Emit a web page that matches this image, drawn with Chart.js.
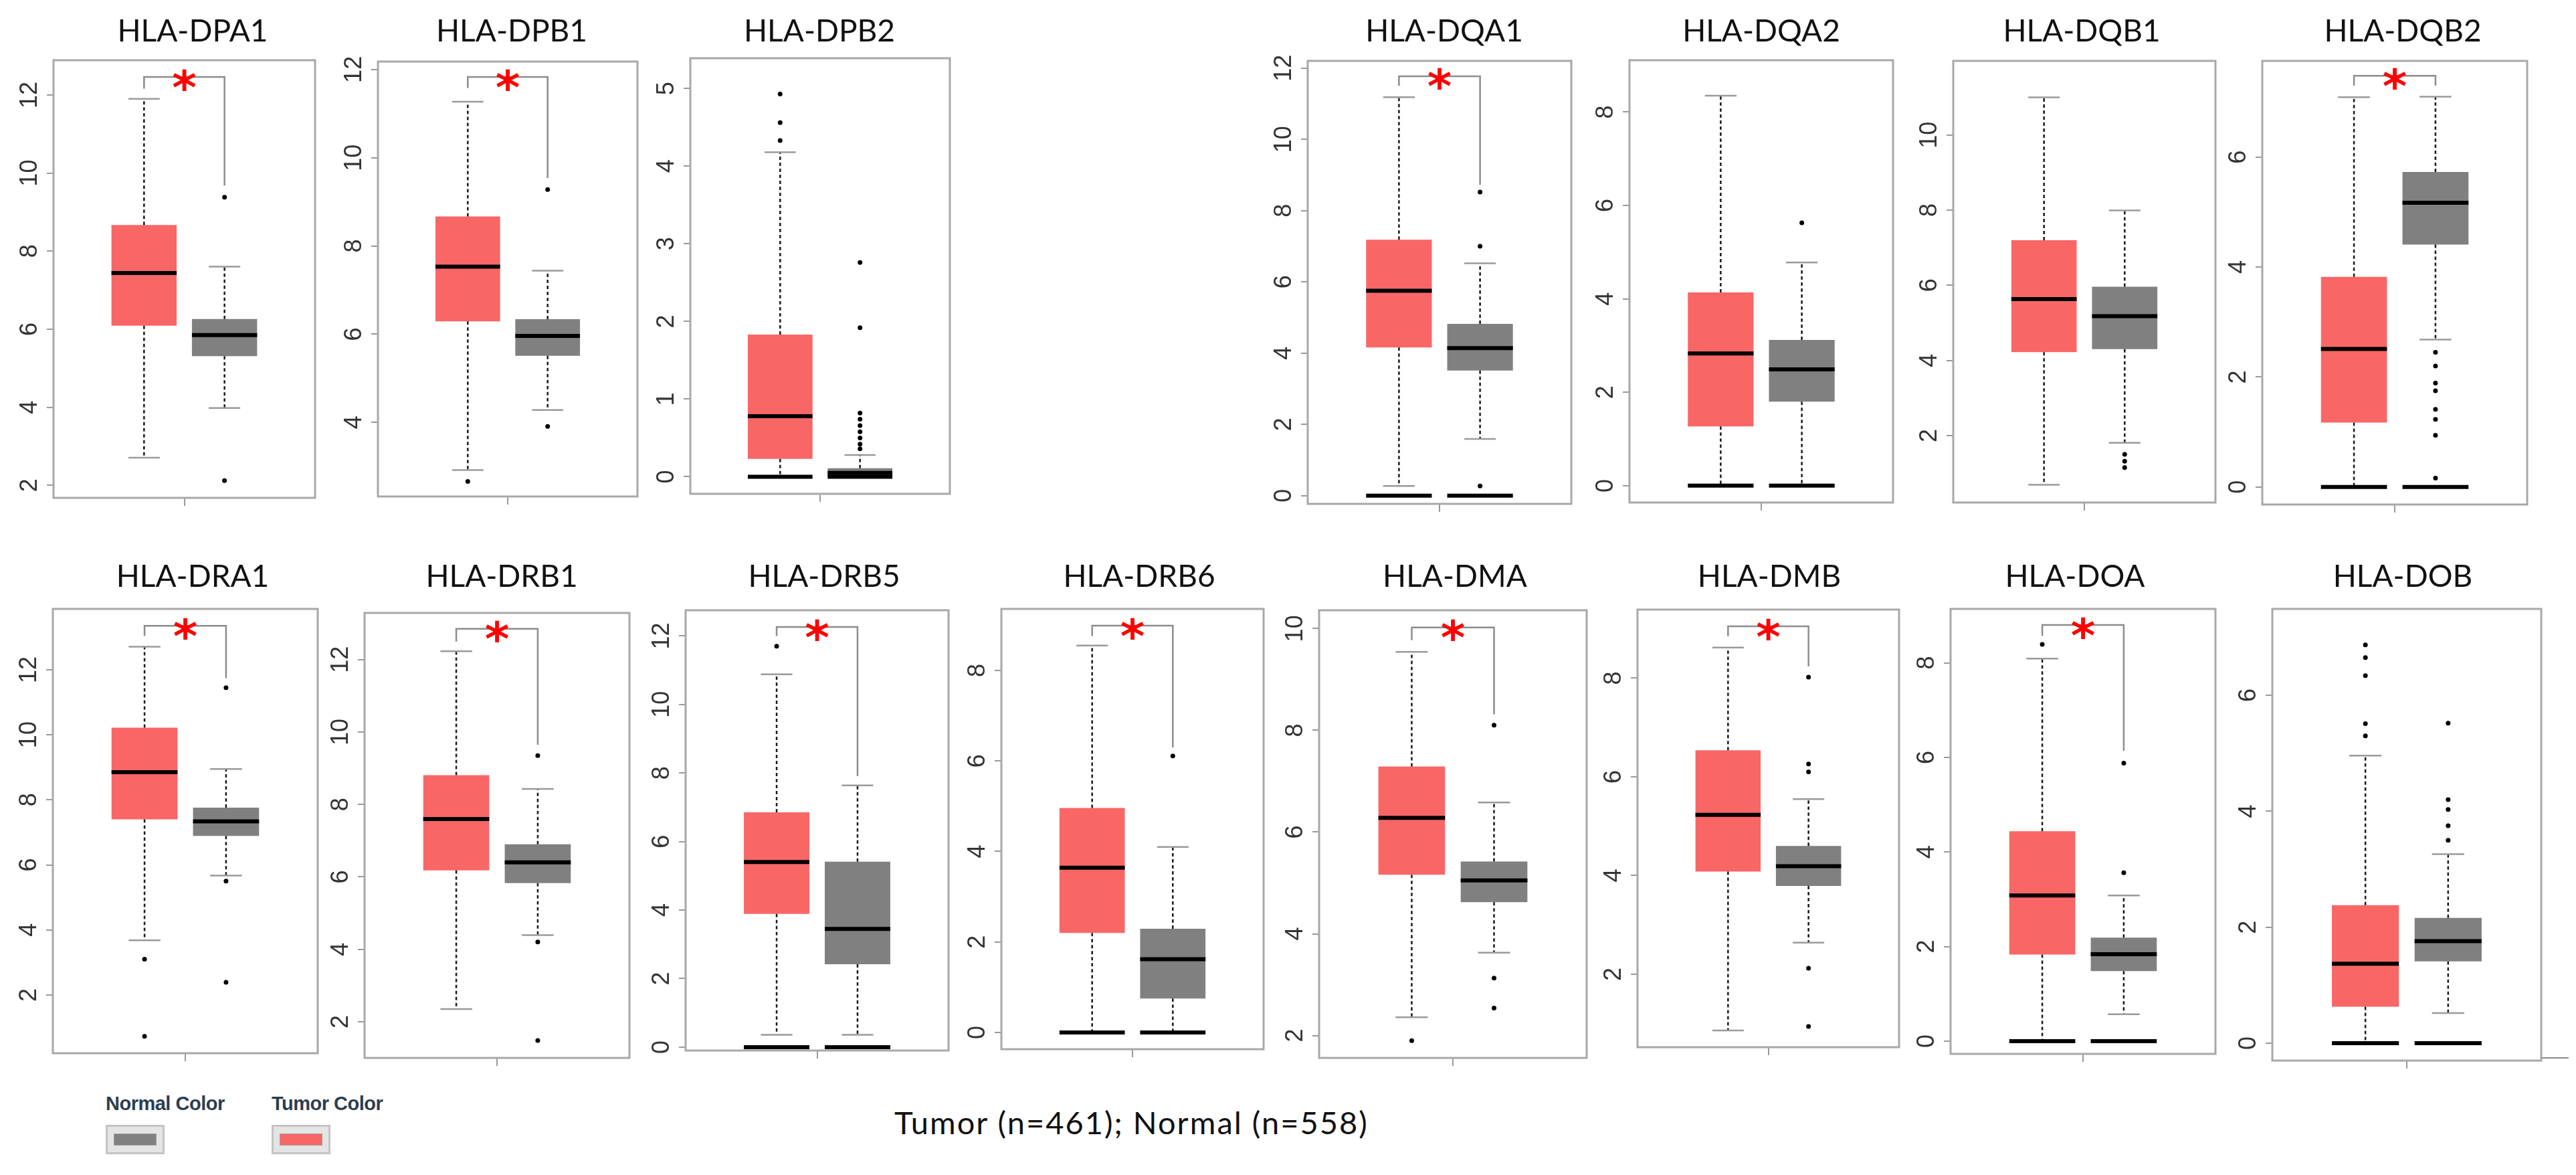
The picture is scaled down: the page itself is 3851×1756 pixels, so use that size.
<!DOCTYPE html>
<html>
<head>
<meta charset="utf-8">
<script src="https://cdn.jsdelivr.net/npm/chart.js@4.4.1/dist/chart.umd.min.js"></script>
<style>
  html, body { margin:0; padding:0; background:#fff; }
  body { width:3851px; height:1756px; position:relative; overflow:hidden; font-family: Lato, "Noto Sans", sans-serif; }
  canvas { position:absolute; }
  .title { position:absolute; width:600px; text-align:center; font-family:Lato, sans-serif; font-size:46px; line-height:1; color:#111; white-space:nowrap; }
  #caption { position:absolute; left:1337px; top:1654px; font-family:Lato, sans-serif; font-size:47px; line-height:1; color:#111; white-space:nowrap; letter-spacing:2px; }
  .legtext { position:absolute; font-family:"Liberation Sans", Arial, sans-serif; font-weight:bold; font-size:29px; line-height:1; color:#2c3e50; white-space:nowrap; letter-spacing:-0.5px; }
  .swOuter { position:absolute; width:82px; height:38px; background:#e4e4e4; border:3px solid #c4c4c4; }
  .swInner { position:absolute; left:9px; top:10px; width:62px; height:16px; border:1px solid #a0a0a0; }
  .artifact { position:absolute; left:3800px; top:1580px; width:40px; height:2px; background:#8a8a8a; }
</style>
</head>
<body>
<script>
// ---------------- DATA ----------------
const genes = ['HLA-DPA1','HLA-DPB1','HLA-DPB2','HLA-DQA1','HLA-DQA2','HLA-DQB1','HLA-DQB2',
               'HLA-DRA1','HLA-DRB1','HLA-DRB5','HLA-DRB6','HLA-DMA','HLA-DMB','HLA-DOA','HLA-DOB'];
const groupLabels = ['Tumor', 'Normal'];
const sampleSizes = [461, 558];

// box statistics: [lower whisker, Q1, median, Q3, upper whisker]
const tumorStats = [
  [2.71, 6.09, 7.44, 8.67, 11.90],
  [2.92, 6.29, 7.53, 8.67, 11.27],
  [0.00, 0.23, 0.78, 1.83, 4.18],
  [0.27, 4.16, 5.75, 7.18, 11.18],
  [0.00, 1.27, 2.83, 4.14, 8.35],
  [0.69, 4.22, 5.63, 7.20, 11.00],
  [0.00, 1.17, 2.51, 3.82, 7.09],
  [3.68, 7.40, 8.85, 10.22, 12.71],
  [2.35, 6.18, 7.60, 8.81, 12.23],
  [0.36, 3.89, 5.40, 6.85, 10.88],
  [0.00, 2.20, 3.64, 4.96, 8.55],
  [2.36, 5.16, 6.28, 7.29, 9.54],
  [0.86, 4.08, 5.23, 6.54, 8.62],
  [0.00, 1.83, 3.08, 4.44, 8.09],
  [0.00, 0.63, 1.37, 2.38, 4.96]
];
const normalStats = [
  [3.98, 5.31, 5.85, 6.26, 7.60],
  [4.28, 5.51, 5.96, 6.34, 7.44],
  [0.00, 0.00, 0.05, 0.11, 0.28],
  [1.59, 3.51, 4.14, 4.82, 6.52],
  [0.00, 1.80, 2.49, 3.12, 4.78],
  [1.81, 4.30, 5.18, 5.96, 7.99],
  [2.68, 4.41, 5.17, 5.73, 7.10],
  [5.67, 6.89, 7.34, 7.76, 8.95],
  [4.39, 5.83, 6.40, 6.90, 8.43],
  [0.36, 2.42, 3.45, 5.41, 7.64],
  [0.00, 0.75, 1.62, 2.29, 4.10],
  [3.63, 4.62, 5.05, 5.42, 6.58],
  [2.64, 3.79, 4.19, 4.60, 5.55],
  [0.57, 1.48, 1.84, 2.19, 3.08],
  [0.52, 1.41, 1.76, 2.16, 3.26]
];
// isolated points visible beyond the whiskers
const tumorOutliers = [
  [], [2.66], [4.93, 4.56, 4.33], [], [], [], [],
  [3.10, 0.73], [], [11.70], [], [1.90], [], [8.39], [6.87, 6.65, 6.34, 5.51, 5.30]
];
const normalOutliers = [
  [9.38, 2.12], [9.28, 3.91], [2.76, 1.92, 0.82, 0.74, 0.66, 0.58, 0.50, 0.42, 0.36],
  [8.52, 7.00, 0.27], [5.63], [1.50, 1.32, 1.15], [2.45, 2.20, 1.89, 1.75, 1.41, 1.23, 0.94, 0.16],
  [11.45, 5.50, 2.39], [9.35, 4.20, 1.48], [], [6.11], [8.10, 3.13, 2.54],
  [8.02, 6.26, 6.10, 2.12, 0.94], [5.88, 3.56], [5.52, 4.20, 4.03, 3.75, 3.50]
];
// dense cluster of samples with zero expression (1 = present)
const tumorZeroCluster  = [0,0,1,1,1,0,1, 0,0,1,1,0,0,1,1];
const normalZeroCluster = [0,0,1,1,1,0,1, 0,0,1,1,0,0,1,1];
// significance bracket: [bar level, left end, right end], null = not significant
const sigBrackets = [
  [12.46, 12.16, 9.68], [11.83, 11.58, 9.54], null, [11.77, 11.50, 8.72], null, null, [7.48, 7.30, 7.30],
  [13.35, 13.04, 11.74], [12.85, 12.50, 9.65], [12.26, 12.00, 7.91], [8.99, 8.76, 6.30],
  [10.02, 9.77, 8.31], [9.05, 8.85, 8.24], [8.80, 8.57, 6.14], null
];
// y-axis ranges and tick labels
const yRanges = [
  [1.68, 12.89], [2.32, 12.18], [-0.22, 5.39], [-0.23, 12.20], [-0.36, 9.11], [0.22, 11.97], [-0.32, 7.75],
  [0.21, 13.87], [1.00, 13.29], [-0.10, 12.75], [-0.37, 9.36], [1.56, 10.36], [0.52, 9.39], [-0.27, 9.14], [-0.30, 7.49]
];
const yTickLabels = [
  [2,4,6,8,10,12], [4,6,8,10,12], [0,1,2,3,4,5], [0,2,4,6,8,10,12], [0,2,4,6,8], [2,4,6,8,10], [0,2,4,6],
  [2,4,6,8,10,12], [2,4,6,8,10,12], [0,2,4,6,8,10,12], [0,2,4,6,8], [2,4,6,8,10], [2,4,6,8], [0,2,4,6,8], [0,2,4,6]
];

// ---------------- LAYOUT / STYLE ----------------
const FRAMES = [
  [80,90,471,744],[565,92,953,742],[1032,87,1420,738],[1955,91,2349,753],[2436,90,2830,751],[2920,91,3312,751],[3382,91,3778,754],
  [79,910,475,1574],[545,916,941,1581],[1025,912,1418,1570],[1497,910,1889,1568],[1972,912,2372,1581],[2448,911,2839,1565],[2916,910,3312,1575],[3397,910,3799,1585]
];
const TITLE_X = [288,765,1225,2159,2633,3112,3592, 288,750,1232,1703,2175,2645,3102,3592];
const TUMOR_COLOR = '#F96666';
const NORMAL_COLOR = '#808080';
const PAD_L = 80, PAD_T = 60, PAD_R = 12, PAD_B = 50;
const CAP_WIDTH = 0.39;   // in x-axis units
const X_MIN = -0.125, X_MAX = 3.125;

Chart.defaults.font.family = '"Liberation Sans", Arial, sans-serif';

const measureCtx = document.createElement('canvas').getContext('2d');
measureCtx.font = '36px "Liberation Sans"';

const boxPlugin = {
  id: 'boxExtras',
  afterDatasetsDraw(chart, args, opts) {
    const i = opts.idx;
    const {ctx, chartArea: a, scales: {x, y}} = chart;
    const line = (x1, y1, x2, y2) => { ctx.beginPath(); ctx.moveTo(x1, y1); ctx.lineTo(x2, y2); ctx.stroke(); };
    ctx.save();
    const groups = [
      {pos: 1, s: tumorStats[i], z: tumorZeroCluster[i], meta: chart.getDatasetMeta(0)},
      {pos: 2, s: normalStats[i], z: normalZeroCluster[i], meta: chart.getDatasetMeta(1)}
    ];
    groups.forEach(g => {
      const bar = g.meta.data[0];
      const cx = x.getPixelForValue(g.pos);
      const half = bar.width / 2;
      const capHalf = x.getPixelForValue(g.pos + CAP_WIDTH / 2) - cx;
      const [lo, q1, med, q3, hi] = g.s;
      // whiskers (dashed)
      ctx.strokeStyle = '#1a1a1a'; ctx.lineWidth = 2.5; ctx.setLineDash([5, 4]);
      line(cx, y.getPixelForValue(q3), cx, y.getPixelForValue(hi));
      line(cx, y.getPixelForValue(q1), cx, y.getPixelForValue(lo));
      ctx.setLineDash([]);
      // caps
      ctx.strokeStyle = '#9a9a9a'; ctx.lineWidth = 2.5;
      line(cx - capHalf, y.getPixelForValue(hi), cx + capHalf, y.getPixelForValue(hi));
      if (!(g.z && lo === 0)) line(cx - capHalf, y.getPixelForValue(lo), cx + capHalf, y.getPixelForValue(lo));
      // median
      ctx.strokeStyle = '#000'; ctx.lineWidth = 6;
      line(cx - half, y.getPixelForValue(med), cx + half, y.getPixelForValue(med));
      // zero cluster
      if (g.z) {
        ctx.lineWidth = 6;
        line(cx - half, y.getPixelForValue(0), cx + half, y.getPixelForValue(0));
      }
    });
    // significance bracket and star
    const br = sigBrackets[i];
    if (br) {
      const x1 = x.getPixelForValue(1), x2 = x.getPixelForValue(2);
      const yt = y.getPixelForValue(br[0]);
      ctx.strokeStyle = '#8c8c8c'; ctx.lineWidth = 2.5;
      ctx.beginPath();
      ctx.moveTo(x1, y.getPixelForValue(br[1]));
      ctx.lineTo(x1, yt); ctx.lineTo(x2, yt);
      ctx.lineTo(x2, y.getPixelForValue(br[2]));
      ctx.stroke();
      ctx.fillStyle = '#FF0000';
      ctx.font = 'bold 70px "DejaVu Sans"';
      ctx.textAlign = 'center';
      const m = ctx.measureText('*');
      const baseY = yt + 4 + (m.actualBoundingBoxAscent - m.actualBoundingBoxDescent) / 2;
      ctx.fillText('*', x.getPixelForValue(1.5), baseY);
    }
    // frame
    ctx.strokeStyle = '#a8a8a8'; ctx.lineWidth = 3;
    ctx.strokeRect(a.left, a.top, a.right - a.left, a.bottom - a.top);
    ctx.restore();
  }
};

genes.forEach((gene, i) => {
  const [L, T, R, B] = FRAMES[i];
  const w = (R - L) + PAD_L + PAD_R;
  const h = (B - T) + PAD_T + PAD_B;
  const cv = document.createElement('canvas');
  cv.width = w; cv.height = h;
  cv.style.left = (L - PAD_L) + 'px'; cv.style.top = (T - PAD_T) + 'px';
  cv.style.width = w + 'px'; cv.style.height = h + 'px';
  document.body.appendChild(cv);

  const title = document.createElement('div');
  title.className = 'title';
  title.textContent = gene;
  title.style.left = (TITLE_X[i] - 300) + 'px';
  title.style.top = (i < 7 ? 22 : 837) + 'px';
  document.body.appendChild(title);

  const widest = Math.max(...yTickLabels[i].map(v => measureCtx.measureText(String(v)).width));
  const tickPad = Math.max(0, 25 - widest / 2);
  const t = tumorStats[i], n = normalStats[i];

  new Chart(cv, {
    type: 'bar',
    data: {
      datasets: [
        {type: 'bar', label: groupLabels[0], data: [{x: 1, y: [t[1], t[3]]}], backgroundColor: TUMOR_COLOR,
         borderWidth: 0, grouped: false, barPercentage: 0.81, categoryPercentage: 1.0, order: 2},
        {type: 'bar', label: groupLabels[1], data: [{x: 2, y: [n[1], n[3]]}], backgroundColor: NORMAL_COLOR,
         borderWidth: 0, grouped: false, barPercentage: 0.81, categoryPercentage: 1.0, order: 2},
        {type: 'scatter', label: groupLabels[0] + ' outliers', data: tumorOutliers[i].map(v => ({x: 1, y: v})),
         pointRadius: 3.5, backgroundColor: '#000', borderWidth: 0, order: 1},
        {type: 'scatter', label: groupLabels[1] + ' outliers', data: normalOutliers[i].map(v => ({x: 2, y: v})),
         pointRadius: 3.5, backgroundColor: '#000', borderWidth: 0, order: 1}
      ]
    },
    options: {
      responsive: false, devicePixelRatio: 1, animation: false, events: [],
      layout: {padding: {left: 0, top: PAD_T, right: PAD_R, bottom: 0}},
      plugins: {legend: {display: false}, title: {display: false}, tooltip: {enabled: false}, boxExtras: {idx: i}},
      scales: {
        x: {
          type: 'linear', min: X_MIN, max: X_MAX, offset: false,
          grid: {offset: false, drawOnChartArea: false, drawTicks: true, tickLength: 12, color: '#9a9a9a', lineWidth: 2},
          border: {display: false},
          ticks: {callback: () => '', autoSkip: false},
          afterBuildTicks: s => { s.ticks = [{value: (X_MIN + X_MAX) / 2}]; },
          afterFit: s => { s.height = PAD_B; }
        },
        y: {
          type: 'linear', min: yRanges[i][0], max: yRanges[i][1],
          grid: {drawOnChartArea: false, drawTicks: true, tickLength: 10, color: '#9a9a9a', lineWidth: 2},
          border: {display: false},
          ticks: {minRotation: 90, maxRotation: 90, crossAlign: 'center', padding: tickPad, autoSkip: false,
                  color: '#333', font: {family: '"Liberation Sans", Arial, sans-serif', size: 36}},
          afterBuildTicks: s => { s.ticks = yTickLabels[i].map(v => ({value: v})); },
          afterFit: s => { s.width = PAD_L; }
        }
      }
    },
    plugins: [boxPlugin]
  });
});

// caption
const cap = document.createElement('div');
cap.id = 'caption';
cap.textContent = `${groupLabels[0]} (n=${sampleSizes[0]}); ${groupLabels[1]} (n=${sampleSizes[1]})`;
document.body.appendChild(cap);

// legend
[[groupLabels[1] + ' Color', 158, NORMAL_COLOR], [groupLabels[0] + ' Color', 406, TUMOR_COLOR]].forEach(([txt, left, col]) => {
  const lt = document.createElement('div');
  lt.className = 'legtext'; lt.textContent = txt;
  lt.style.left = left + 'px'; lt.style.top = '1635px';
  document.body.appendChild(lt);
  const o = document.createElement('div');
  o.className = 'swOuter'; o.style.left = left + 'px'; o.style.top = '1681px';
  const inr = document.createElement('div');
  inr.className = 'swInner'; inr.style.background = col;
  o.appendChild(inr);
  document.body.appendChild(o);
});
const art = document.createElement('div');
art.className = 'artifact';
document.body.appendChild(art);
</script>
</body>
</html>
